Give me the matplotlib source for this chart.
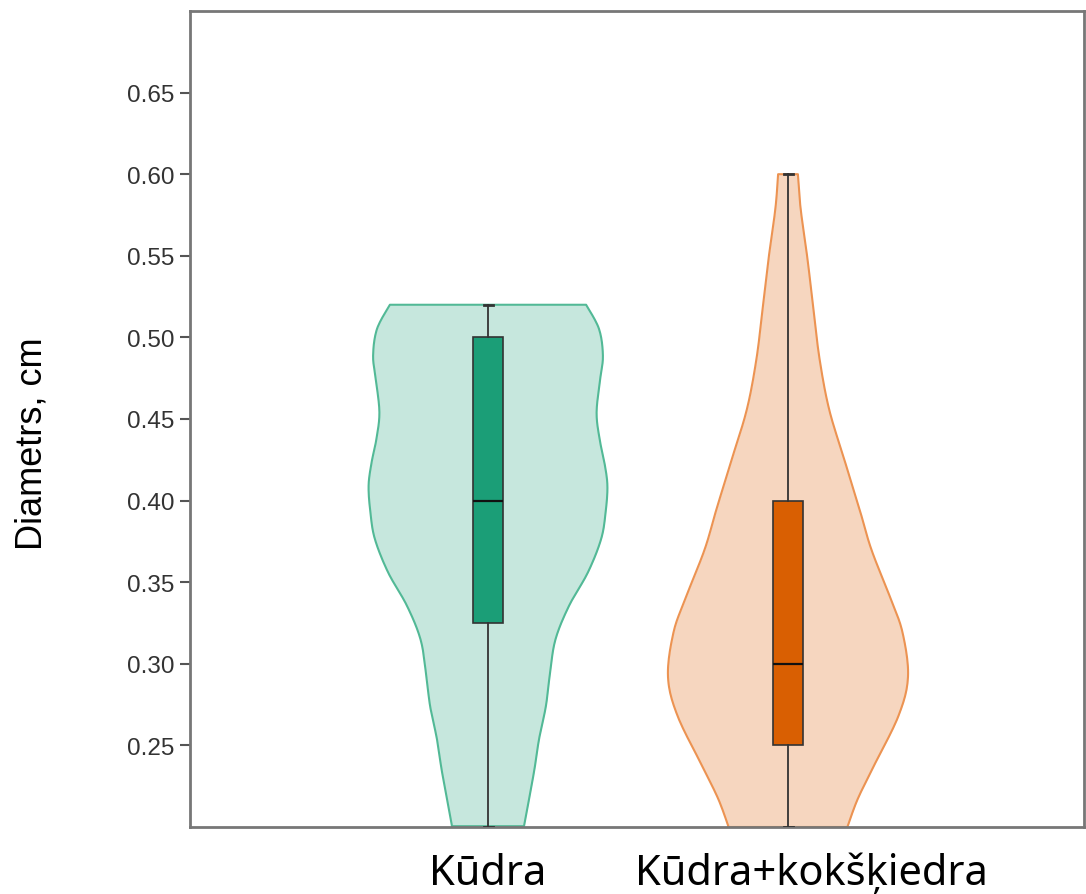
import numpy as np
import matplotlib.pyplot as plt

# groups
groups = ['Kūdra', 'Kūdra+kokšķiedra']
positions = [1, 2]

# violin outlines: y value and half width (x units)
green_y = [0.2005, 0.2334, 0.2537, 0.2741, 0.2947, 0.315, 0.3355, 0.356,
           0.3764, 0.3928, 0.4091, 0.4234, 0.4377, 0.4541, 0.4745, 0.4888,
           0.5052, 0.5200]
green_w = [0.120, 0.153, 0.170, 0.193, 0.207, 0.225, 0.270, 0.333,
           0.377, 0.392, 0.398, 0.388, 0.372, 0.362, 0.374, 0.383,
           0.370, 0.327]

orange_y = [0.200, 0.217, 0.237, 0.268, 0.292, 0.319, 0.340, 0.370,
            0.395, 0.425, 0.456, 0.487, 0.517, 0.548, 0.579, 0.600]
orange_w = [0.198, 0.232, 0.285, 0.368, 0.400, 0.382, 0.342, 0.278,
            0.238, 0.188, 0.137, 0.105, 0.085, 0.065, 0.042, 0.033]

# box stats
q1 = [0.325, 0.25]
med = [0.40, 0.30]
q3 = [0.50, 0.40]
whis_lo = [0.20, 0.20]
whis_hi = [0.52, 0.60]

box_colors = ['#1b9e77', '#d95f02']
fill_colors = ['#c6e7dd', '#f6d6bf']
edge_colors = ['#52b996', '#ec9352']


def smooth_outline(ys, ws, n=12):
    # Catmull-Rom through the read points, only to round off the drawn edge
    ys = np.asarray(ys, float)
    ws = np.asarray(ws, float)
    py = np.concatenate([[ys[0]], ys, [ys[-1]]])
    pw = np.concatenate([[ws[0]], ws, [ws[-1]]])
    out_y, out_w = [], []
    t = np.linspace(0, 1, n, endpoint=False)
    for k in range(1, len(py) - 2):
        for arr, out in ((py, out_y), (pw, out_w)):
            p0, p1, p2, p3 = arr[k - 1], arr[k], arr[k + 1], arr[k + 2]
            out.extend(0.5 * (2 * p1 + (-p0 + p2) * t
                              + (2 * p0 - 5 * p1 + 4 * p2 - p3) * t ** 2
                              + (-p0 + 3 * p1 - 3 * p2 + p3) * t ** 3))
    out_y.append(ys[-1])
    out_w.append(ws[-1])
    return np.array(out_y), np.array(out_w)


fig = plt.figure(figsize=(10.86, 8.95), dpi=100)
ax = fig.add_axes([190 / 1086, 67 / 895, 894 / 1086, 816 / 895])

outlines = [(green_y, green_w), (orange_y, orange_w)]
for i, (ys, ws) in enumerate(outlines):
    ys, ws = smooth_outline(ys, ws)
    p = positions[i]
    ax.fill_betweenx(ys, p - ws, p + ws, color=fill_colors[i], lw=0, zorder=1)
    xs = np.concatenate([p - ws, (p + ws)[::-1], [p - ws[0]]])
    yy = np.concatenate([ys, ys[::-1], [ys[0]]])
    ax.plot(xs, yy, color=edge_colors[i], lw=1.5, zorder=1.5)

stats = []
for i in range(len(groups)):
    stats.append({'med': med[i], 'q1': q1[i], 'q3': q3[i],
                  'whislo': whis_lo[i], 'whishi': whis_hi[i], 'fliers': []})

bp = ax.bxp(stats, positions=positions, widths=0.1, patch_artist=True,
            showfliers=False, capwidths=0.03,
            boxprops=dict(edgecolor='#333333', linewidth=1.2),
            medianprops=dict(color='#111111', linewidth=1.6),
            whiskerprops=dict(color='#333333', linewidth=1.3),
            capprops=dict(color='#333333', linewidth=2.0))
for patch, c in zip(bp['boxes'], box_colors):
    patch.set_facecolor(c)
for art in bp['boxes'] + bp['medians'] + bp['whiskers'] + bp['caps']:
    art.set_zorder(3)

ax.set_xlim(1 - 298 / 300, 1 + 596 / 300)
ax.set_ylim(0.2, 0.7)
ax.set_yticks([0.25, 0.30, 0.35, 0.40, 0.45, 0.50, 0.55, 0.60, 0.65])
ax.set_yticklabels(['%.2f' % v for v in ax.get_yticks()],
                   fontfamily='Liberation Sans', fontsize=17.5, color='#333333')
ax.tick_params(axis='y', length=7, width=1.5, color='#555555', pad=4)
ax.set_xticks([])
for s in ax.spines.values():
    s.set_color('#777777')
    s.set_linewidth(2)

# category labels under the axis
label_x = [1.0, 2.077]
for lx, g in zip(label_x, groups):
    ax.text(lx, -0.0699, g, transform=ax.get_xaxis_transform(), ha='center',
            va='baseline', fontsize=30, fontfamily='Noto Sans', color='black')

fig.text(15 / 1086, (895 - 444) / 895, 'Diametrs, cm', rotation=90,
         ha='left', va='center', fontsize=26, fontfamily='Liberation Sans')

fig.savefig('out.png', dpi=100)
